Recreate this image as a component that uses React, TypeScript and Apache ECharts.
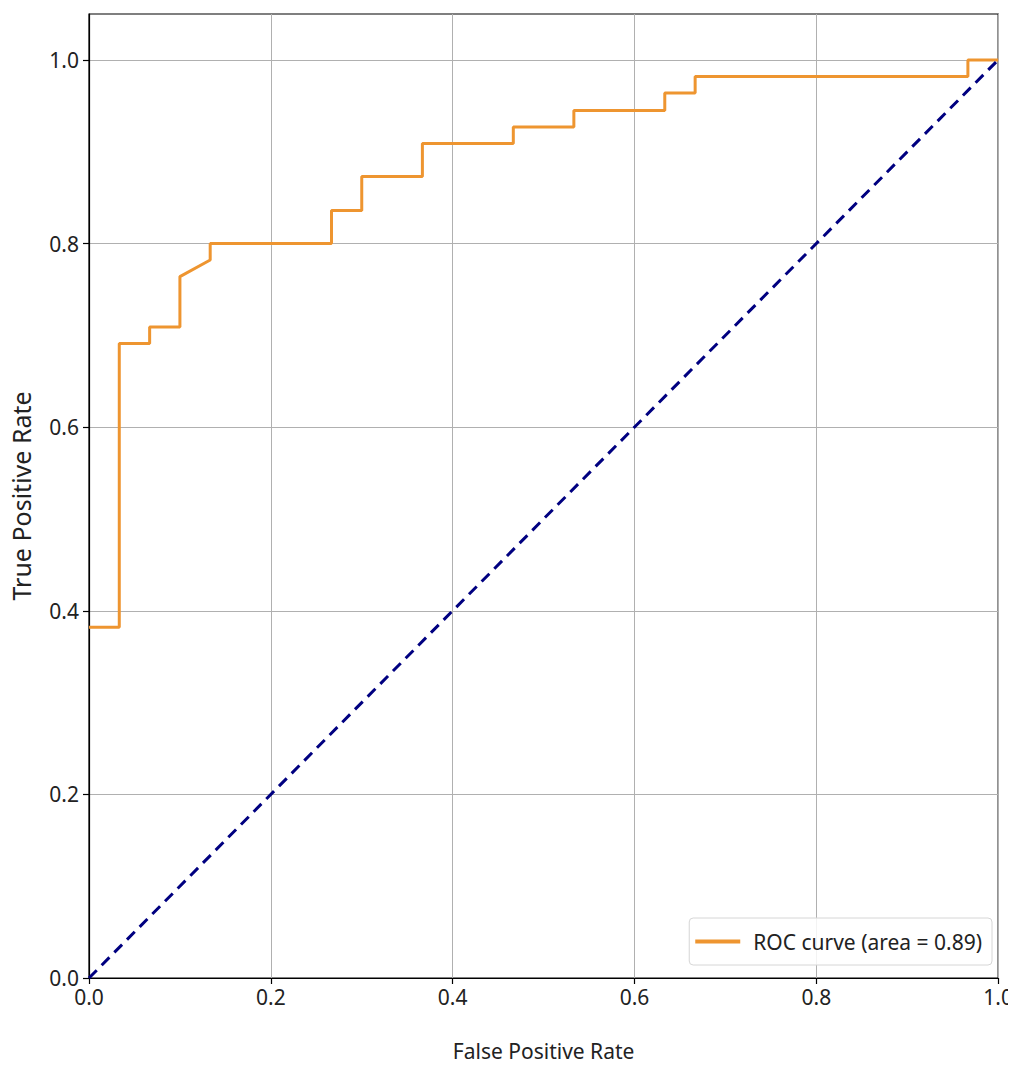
import React, { useEffect, useRef } from "react";
import * as echarts from "echarts";

const fpr = [0, 0.0333, 0.0333, 0.0667, 0.0667, 0.1, 0.1, 0.1333, 0.1333, 0.2667, 0.2667, 0.3, 0.3, 0.3667, 0.3667, 0.4667, 0.4667, 0.5333, 0.5333, 0.6333, 0.6333, 0.6667, 0.6667, 0.9667, 0.9667, 1.0];
const tpr = [0.382, 0.382, 0.691, 0.691, 0.709, 0.709, 0.764, 0.782, 0.8, 0.8, 0.836, 0.836, 0.873, 0.873, 0.909, 0.909, 0.927, 0.927, 0.945, 0.945, 0.964, 0.964, 0.982, 0.982, 1.0, 1.0];
const chanceX = [0, 1];
const chanceY = [0, 1];
const yTicks = [0, 0.2, 0.4, 0.6, 0.8, 1.0];
const rocName = "ROC curve (area = 0.89)";

export default function App() {
  const ref = useRef<HTMLDivElement>(null);
  useEffect(() => {
    if (!ref.current) return;
    const chart = echarts.init(ref.current, null, { renderer: "svg" });
    const font = "'Noto Sans', sans-serif";
    chart.setOption({
      animation: false,
      backgroundColor: "#fff",
      grid: {
        left: 88,
        right: 15,
        top: 14,
        bottom: 88,
        show: true,
        borderColor: "#000",
        borderWidth: 1.2,
        backgroundColor: "transparent",
      },
      legend: {
        data: [rocName],
        right: 24,
        bottom: 101,
        orient: "vertical",
        icon: "rect",
        itemWidth: 45,
        itemHeight: 4,
        itemGap: 8,
        padding: [13, 10, 13, 6],
        borderColor: "#d6d6d6",
        borderWidth: 1,
        borderRadius: 4,
        backgroundColor: "rgba(255,255,255,0.85)",
        textStyle: { fontSize: 21, fontFamily: font, color: "#222", padding: [0, 0, 0, 8] },
      },
      xAxis: {
        type: "value",
        min: 0,
        max: 1,
        interval: 0.2,
        name: "False Positive Rate",
        nameLocation: "middle",
        nameGap: 62,
        nameTextStyle: { fontSize: 21, fontFamily: font, color: "#222" },
        axisLine: { show: true, lineStyle: { color: "#000", width: 1.2 } },
        axisTick: { show: true, length: 6, lineStyle: { color: "#000", width: 1.2 } },
        axisLabel: {
          fontSize: 21,
          fontFamily: font,
          color: "#222",
          margin: 8,
          formatter: (v: number) => v.toFixed(1),
        },
        splitLine: { show: true, lineStyle: { color: "#b0b0b0", width: 1 } },
      },
      yAxis: {
        type: "value",
        min: 0,
        max: 1.05,
        interval: 0.2,
        name: "True Positive Rate",
        nameLocation: "middle",
        nameGap: 56,
        nameTextStyle: { fontSize: 25, fontFamily: font, color: "#222" },
        axisLine: { show: true, lineStyle: { color: "#000", width: 1.2 } },
        axisTick: { show: true, length: 6, customValues: yTicks, lineStyle: { color: "#000", width: 1.2 } },
        axisLabel: {
          fontSize: 21,
          fontFamily: font,
          color: "#222",
          margin: 10,
          customValues: yTicks,
          formatter: (v: number) => v.toFixed(1),
        },
        splitLine: { show: true, lineStyle: { color: "#b0b0b0", width: 1 } },
      },
      series: [
        {
          name: rocName,
          type: "line",
          data: fpr.map((x, i) => [x, tpr[i]]),
          symbol: "none",
          color: "#EE9530",
          lineStyle: { color: "#EE9530", width: 3 },
          z: 3,
        },
        {
          name: "chance",
          type: "line",
          data: chanceX.map((x, i) => [x, chanceY[i]]),
          symbol: "none",
          color: "#000080",
          lineStyle: { color: "#000080", width: 3, type: [11, 7] },
          z: 4,
        },
      ],
    });
    return () => chart.dispose();
  }, []);
  return <div ref={ref} style={{ width: 1016, height: 1066, marginLeft: -8, marginTop: -8 }} />;
}
